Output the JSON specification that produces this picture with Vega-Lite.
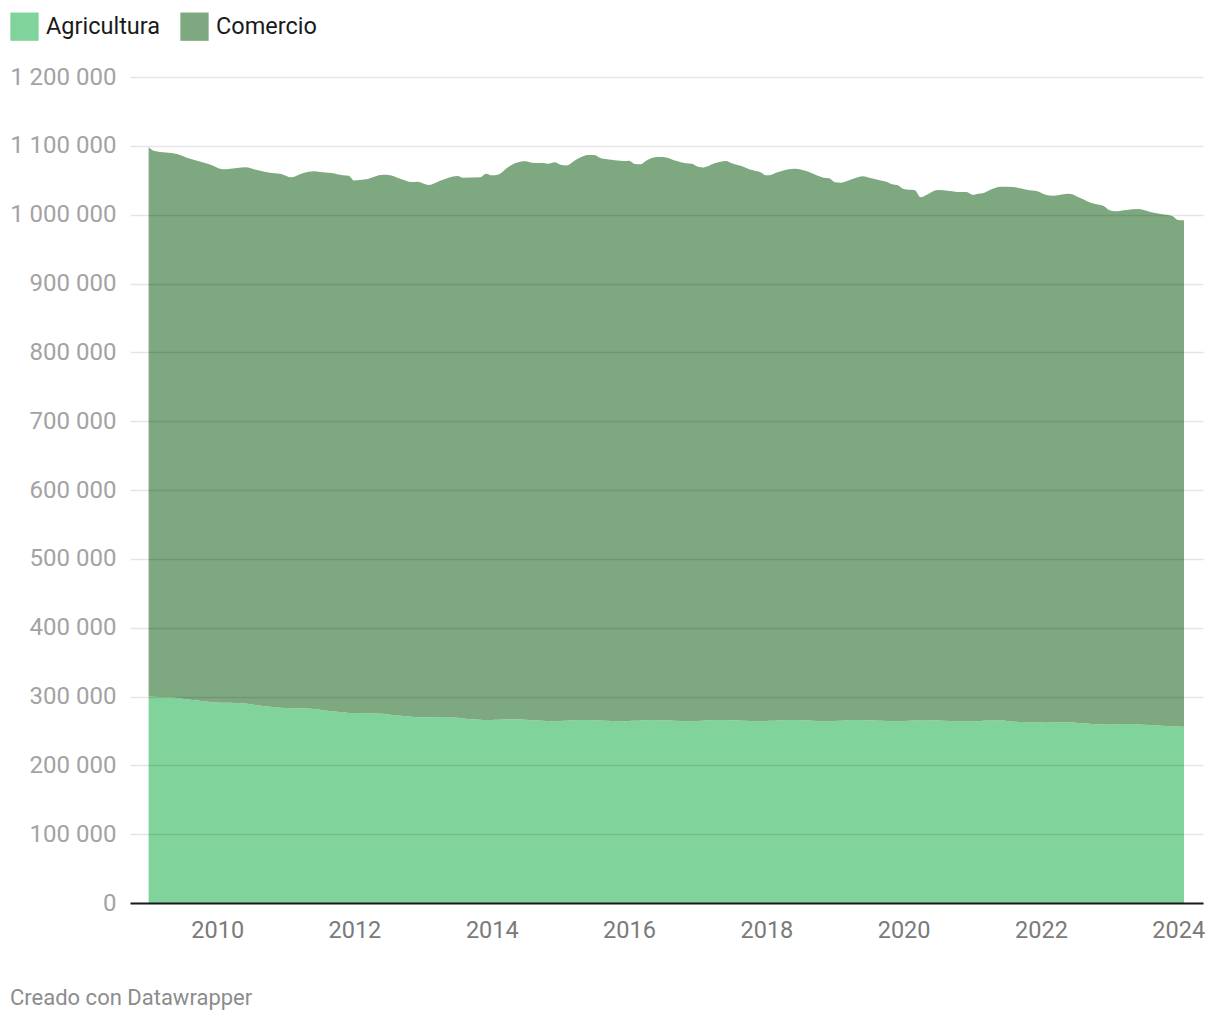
{
  "$schema": "https://vega.github.io/schema/vega-lite/v6.json",
  "width": 1073,
  "height": 826,
  "autosize": "none",
  "padding": {"left": 130, "top": 77, "right": 17, "bottom": 117},
  "background": "#ffffff",
  "title": {"text": "Creado con Datawrapper", "orient": "bottom", "anchor": "start", "frame": "group", "dx": -120, "offset": 46, "font": "Roboto", "fontSize": 22, "fontWeight": "normal", "color": "#8c8c8c", "baseline": "top"},
  "data": {"values": [
    {"fecha":"2009-01-01","Agricultura":300000,"Comercio":797900},
    {"fecha":"2009-02-01","Agricultura":299500,"Comercio":793000},
    {"fecha":"2009-06-01","Agricultura":298000,"Comercio":790100},
    {"fecha":"2009-08-01","Agricultura":295500,"Comercio":786400},
    {"fecha":"2009-11-01","Agricultura":292600,"Comercio":782000},
    {"fecha":"2009-12-01","Agricultura":291700,"Comercio":780500},
    {"fecha":"2010-02-01","Agricultura":291000,"Comercio":774900},
    {"fecha":"2010-03-01","Agricultura":291000,"Comercio":775300},
    {"fecha":"2010-06-01","Agricultura":289700,"Comercio":779100},
    {"fecha":"2010-08-01","Agricultura":287300,"Comercio":777600},
    {"fecha":"2010-11-01","Agricultura":284500,"Comercio":775600},
    {"fecha":"2010-12-01","Agricultura":283700,"Comercio":775900},
    {"fecha":"2011-02-01","Agricultura":283100,"Comercio":771200},
    {"fecha":"2011-04-01","Agricultura":282900,"Comercio":777200},
    {"fecha":"2011-06-01","Agricultura":281900,"Comercio":781100},
    {"fecha":"2011-07-01","Agricultura":280800,"Comercio":781200},
    {"fecha":"2011-09-01","Agricultura":278700,"Comercio":781800},
    {"fecha":"2011-11-01","Agricultura":277000,"Comercio":780200},
    {"fecha":"2011-12-01","Agricultura":276100,"Comercio":780600},
    {"fecha":"2012-01-01","Agricultura":276000,"Comercio":773500},
    {"fecha":"2012-03-01","Agricultura":275800,"Comercio":775500},
    {"fecha":"2012-06-01","Agricultura":275000,"Comercio":783100},
    {"fecha":"2012-07-01","Agricultura":274000,"Comercio":783600},
    {"fecha":"2012-09-01","Agricultura":272200,"Comercio":780100},
    {"fecha":"2012-11-01","Agricultura":270700,"Comercio":776800},
    {"fecha":"2012-12-01","Agricultura":270000,"Comercio":778000},
    {"fecha":"2013-02-01","Agricultura":269900,"Comercio":773200},
    {"fecha":"2013-04-01","Agricultura":270300,"Comercio":779000},
    {"fecha":"2013-07-01","Agricultura":269000,"Comercio":787200},
    {"fecha":"2013-08-01","Agricultura":268200,"Comercio":785600},
    {"fecha":"2013-11-01","Agricultura":266400,"Comercio":787900},
    {"fecha":"2013-12-01","Agricultura":265800,"Comercio":793800},
    {"fecha":"2014-01-01","Agricultura":266000,"Comercio":791200},
    {"fecha":"2014-02-01","Agricultura":266100,"Comercio":792000},
    {"fecha":"2014-04-01","Agricultura":266900,"Comercio":802800},
    {"fecha":"2014-06-01","Agricultura":266900,"Comercio":810100},
    {"fecha":"2014-07-01","Agricultura":266300,"Comercio":811200},
    {"fecha":"2014-08-01","Agricultura":265600,"Comercio":809900},
    {"fecha":"2014-10-01","Agricultura":264900,"Comercio":810200},
    {"fecha":"2014-11-01","Agricultura":264500,"Comercio":809600},
    {"fecha":"2014-12-01","Agricultura":264100,"Comercio":811900},
    {"fecha":"2015-01-01","Agricultura":264500,"Comercio":808100},
    {"fecha":"2015-02-01","Agricultura":264700,"Comercio":806900},
    {"fecha":"2015-04-01","Agricultura":265800,"Comercio":815100},
    {"fecha":"2015-06-01","Agricultura":266000,"Comercio":820700},
    {"fecha":"2015-07-01","Agricultura":265500,"Comercio":821200},
    {"fecha":"2015-08-01","Agricultura":265000,"Comercio":817300},
    {"fecha":"2015-10-01","Agricultura":264500,"Comercio":815300},
    {"fecha":"2015-12-01","Agricultura":264000,"Comercio":814000},
    {"fecha":"2016-01-01","Agricultura":264500,"Comercio":813900},
    {"fecha":"2016-02-01","Agricultura":264700,"Comercio":808900},
    {"fecha":"2016-03-01","Agricultura":265300,"Comercio":807800},
    {"fecha":"2016-04-01","Agricultura":265800,"Comercio":812600},
    {"fecha":"2016-06-01","Agricultura":266000,"Comercio":817800},
    {"fecha":"2016-07-01","Agricultura":265500,"Comercio":818300},
    {"fecha":"2016-09-01","Agricultura":264700,"Comercio":814100},
    {"fecha":"2016-11-01","Agricultura":264200,"Comercio":810400},
    {"fecha":"2016-12-01","Agricultura":264000,"Comercio":810000},
    {"fecha":"2017-01-01","Agricultura":264500,"Comercio":805200},
    {"fecha":"2017-02-01","Agricultura":264700,"Comercio":804000},
    {"fecha":"2017-04-01","Agricultura":265800,"Comercio":808800},
    {"fecha":"2017-06-01","Agricultura":266000,"Comercio":812000},
    {"fecha":"2017-07-01","Agricultura":265500,"Comercio":809100},
    {"fecha":"2017-09-01","Agricultura":264700,"Comercio":804900},
    {"fecha":"2017-10-01","Agricultura":264500,"Comercio":801400},
    {"fecha":"2017-12-01","Agricultura":264000,"Comercio":797500},
    {"fecha":"2018-01-01","Agricultura":264500,"Comercio":792700},
    {"fecha":"2018-02-01","Agricultura":264700,"Comercio":793800},
    {"fecha":"2018-03-01","Agricultura":265300,"Comercio":796200},
    {"fecha":"2018-06-01","Agricultura":266000,"Comercio":800800},
    {"fecha":"2018-08-01","Agricultura":265000,"Comercio":798400},
    {"fecha":"2018-09-01","Agricultura":264700,"Comercio":795400},
    {"fecha":"2018-11-01","Agricultura":264200,"Comercio":789500},
    {"fecha":"2018-12-01","Agricultura":264000,"Comercio":788800},
    {"fecha":"2019-01-01","Agricultura":264500,"Comercio":782500},
    {"fecha":"2019-02-01","Agricultura":264700,"Comercio":781800},
    {"fecha":"2019-04-01","Agricultura":265800,"Comercio":785500},
    {"fecha":"2019-06-01","Agricultura":266000,"Comercio":789700},
    {"fecha":"2019-07-01","Agricultura":265500,"Comercio":788200},
    {"fecha":"2019-09-01","Agricultura":264700,"Comercio":785100},
    {"fecha":"2019-10-01","Agricultura":264500,"Comercio":783500},
    {"fecha":"2019-11-01","Agricultura":264200,"Comercio":779900},
    {"fecha":"2019-12-01","Agricultura":264000,"Comercio":778700},
    {"fecha":"2020-01-01","Agricultura":264300,"Comercio":773000},
    {"fecha":"2020-03-01","Agricultura":265000,"Comercio":770400},
    {"fecha":"2020-04-01","Agricultura":265500,"Comercio":759700},
    {"fecha":"2020-05-01","Agricultura":265900,"Comercio":762700},
    {"fecha":"2020-07-01","Agricultura":265300,"Comercio":770500},
    {"fecha":"2020-09-01","Agricultura":264500,"Comercio":769900},
    {"fecha":"2020-11-01","Agricultura":264000,"Comercio":768900},
    {"fecha":"2020-12-01","Agricultura":263800,"Comercio":769100},
    {"fecha":"2021-01-01","Agricultura":264000,"Comercio":765000},
    {"fecha":"2021-02-01","Agricultura":264200,"Comercio":766300},
    {"fecha":"2021-03-01","Agricultura":264800,"Comercio":766700},
    {"fecha":"2021-04-01","Agricultura":265200,"Comercio":770200},
    {"fecha":"2021-06-01","Agricultura":265300,"Comercio":775300},
    {"fecha":"2021-08-01","Agricultura":263800,"Comercio":776400},
    {"fecha":"2021-10-01","Agricultura":263000,"Comercio":774300},
    {"fecha":"2021-11-01","Agricultura":262500,"Comercio":772900},
    {"fecha":"2021-12-01","Agricultura":262200,"Comercio":772700},
    {"fecha":"2022-02-01","Agricultura":262000,"Comercio":766600},
    {"fecha":"2022-03-01","Agricultura":262300,"Comercio":765300},
    {"fecha":"2022-06-01","Agricultura":262500,"Comercio":768000},
    {"fecha":"2022-08-01","Agricultura":261000,"Comercio":762800},
    {"fecha":"2022-10-01","Agricultura":260000,"Comercio":756500},
    {"fecha":"2022-12-01","Agricultura":259200,"Comercio":753400},
    {"fecha":"2023-01-01","Agricultura":259300,"Comercio":747000},
    {"fecha":"2023-02-01","Agricultura":259500,"Comercio":745400},
    {"fecha":"2023-04-01","Agricultura":260000,"Comercio":746800},
    {"fecha":"2023-06-01","Agricultura":259800,"Comercio":748400},
    {"fecha":"2023-08-01","Agricultura":258500,"Comercio":745900},
    {"fecha":"2023-10-01","Agricultura":257500,"Comercio":743500},
    {"fecha":"2023-12-01","Agricultura":256800,"Comercio":741300},
    {"fecha":"2024-01-01","Agricultura":256500,"Comercio":735800},
    {"fecha":"2024-02-01","Agricultura":256000,"Comercio":735900}
  ]},
  "transform": [{"fold": ["Agricultura", "Comercio"], "as": ["sector", "valor"]}],
  "mark": {"type": "area", "interpolate": "monotone"},
  "encoding": {
    "x": {
      "field": "fecha", "type": "temporal",
      "scale": {"type": "utc", "domain": [{"year": 2008, "month": 9, "date": 24, "utc": true}, {"year": 2024, "month": 5, "date": 12, "utc": true}]},
      "axis": {
        "title": null, "format": "%Y", "formatType": "utc",
        "values": [{"year": 2010, "utc": true}, {"year": 2012, "utc": true}, {"year": 2014, "utc": true}, {"year": 2016, "utc": true}, {"year": 2018, "utc": true}, {"year": 2020, "utc": true}, {"year": 2022, "utc": true}, {"year": 2024, "utc": true}],
        "grid": false, "ticks": false, "domain": true, "domainColor": "#1a1a1a", "domainWidth": 2,
        "labelFont": "Roboto", "labelFontSize": 23.5, "labelColor": "#7a7a7a", "labelPadding": 15, "labelFlush": false, "zindex": 1
      }
    },
    "y": {
      "field": "valor", "type": "quantitative", "stack": "zero",
      "scale": {"domain": [0, 1200000], "nice": false},
      "axis": {
        "title": null, "values": [0, 100000, 200000, 300000, 400000, 500000, 600000, 700000, 800000, 900000, 1000000, 1100000, 1200000],
        "labelExpr": "replace(format(datum.value, ','), regexp(',', 'g'), ' ')",
        "grid": true, "gridColor": "#000000", "gridOpacity": 0.1, "gridWidth": 1.5,
        "ticks": false, "domain": false,
        "labelFont": "Roboto", "labelFontSize": 24, "labelColor": "#a3a3a3", "labelPadding": 14, "zindex": 1
      }
    },
    "order": {"field": "sector", "sort": "ascending"},
    "color": {
      "field": "sector", "type": "nominal",
      "scale": {"domain": ["Agricultura", "Comercio"], "range": ["#80d39b", "#7ea87f"]},
      "legend": {
        "title": null, "orient": "none", "direction": "horizontal", "legendX": -120, "legendY": -65,
        "symbolType": "square", "symbolSize": 800, "symbolStrokeWidth": 0, "symbolOpacity": 1,
        "labelFont": "Roboto", "labelFontSize": 23.5, "labelColor": "#1a1a1a", "labelOffset": 7,
        "columnPadding": 19, "padding": 0
      }
    }
  },
  "config": {"view": {"stroke": null}}
}
